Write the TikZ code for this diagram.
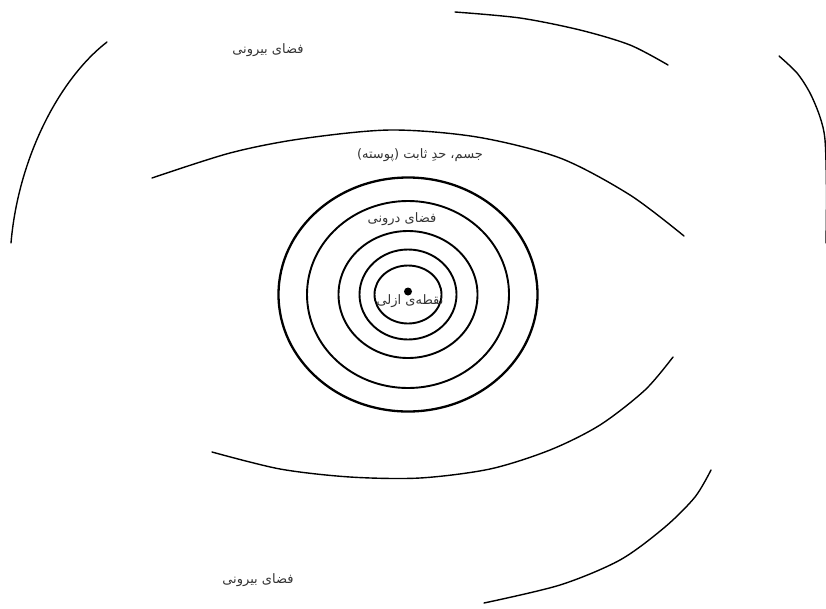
\documentclass[tikz,border=0pt]{standalone}
\usepackage{fontspec}
\TeXXeTstate=1
\newfontfamily\arabicfont[Script=Arabic]{DejaVu Sans}
\definecolor{txtgray}{HTML}{333333}
\begin{document}
\begin{tikzpicture}[x=1pt,y=-1pt,
  arcline/.style={line width=1.4pt, line cap=round},
  ring/.style={line width=1.9pt},
  outerring/.style={line width=2.3pt},
  lbl/.style={font=\arabicfont\fontsize{13}{15}\selectfont, text=txtgray, inner sep=0pt}]
\useasboundingbox (0,0) rectangle (826,608);
\clip (0,0) rectangle (826,608);
% outer space arcs
\coordinate (lA) at (107,42);
\coordinate (lB) at (11,243);
\draw[arcline] (lA) .. controls (58,80) and (18,160) .. (lB);
\draw[arcline] plot[smooth] coordinates {(779,56) (797,73) (810,93) (820,117) (825,140) (826.5,190) (826,243)};
\draw[arcline] plot[smooth] coordinates {(455,12) (520,18) (580,30) (630,45) (668,65)};
\draw[arcline] plot[smooth] coordinates {(484,603) (560,585) (620,560) (665,527) (695,497) (711,470)};
% shell arcs
\draw[arcline] plot[smooth] coordinates {(152,178) (230,153) (300,139) (390,130) (477,137) (560,158) (630,195) (684,236)};
\draw[arcline] plot[smooth] coordinates {(212,452) (280,469) (350,477) (420,478) (490,469) (550,450) (600,425) (645,390) (673,357)};
% concentric rings
\coordinate (C) at (408,294.5);
\draw[outerring] (C) ellipse [x radius=129.5pt, y radius=117pt];
\draw[ring] (C) ellipse [x radius=101pt, y radius=93.5pt];
\draw[ring] (C) ellipse [x radius=69.5pt, y radius=63.5pt];
\draw[ring] (C) ellipse [x radius=48.5pt, y radius=45pt];
\draw[ring] (C) ellipse [x radius=33.5pt, y radius=29pt];
\fill (408,291.5) circle [radius=4pt];
% labels
\node[lbl] (outerTop) at (268,50) {\beginR فضای بیرونی\endR};
\node[lbl] (shell) at (420,155) {\beginR جسم، حدِ ثابت (پوسته)\endR};
\node[lbl] (inner) at (402,219) {\beginR فضای درونی\endR};
\node[lbl] (origin) at (410,301) {\beginR نقطه‌ی ازلی\endR};
\node[lbl] (outerBottom) at (258,580) {\beginR فضای بیرونی\endR};
\end{tikzpicture}
\end{document}
